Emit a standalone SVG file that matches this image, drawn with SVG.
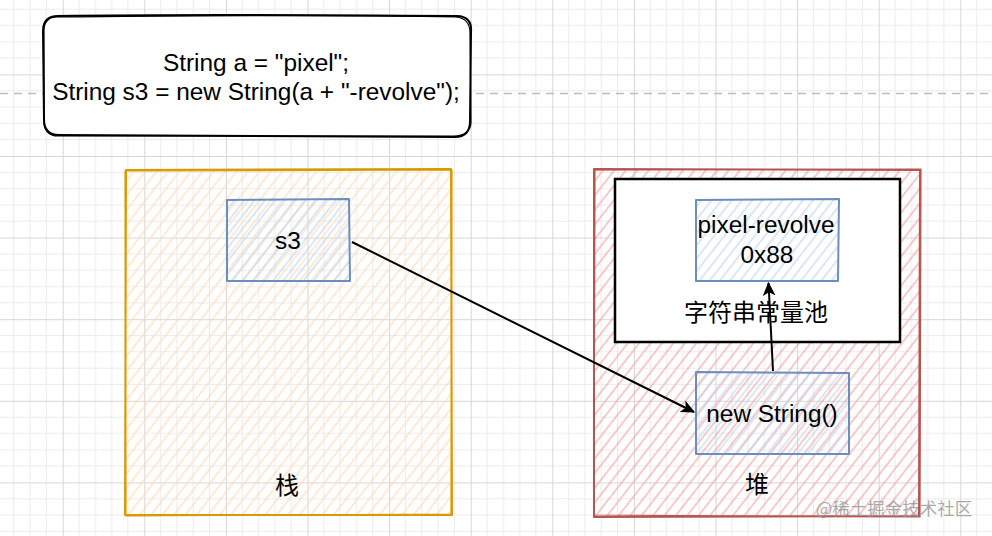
<svg xmlns="http://www.w3.org/2000/svg" width="992" height="536" viewBox="0 0 992 536">
<style>
.t{font-family:"Liberation Sans",Arial,sans-serif;font-size:24.4px;fill:#000;text-anchor:middle}
.c{font-family:"Liberation Sans","Noto Sans CJK SC",sans-serif;font-size:24px;fill:#000;text-anchor:middle}
.sk{fill:none;stroke-linejoin:round;stroke-linecap:round}
.edge{fill:none;stroke:#000;stroke-width:2}
</style>
<defs>
<pattern id="grid" patternUnits="userSpaceOnUse" x="62.7" y="74.4" width="81.6" height="81.6">
<path d="M16.32 0V81.6M32.64 0V81.6M48.96 0V81.6M65.28 0V81.6M0 16.32H81.6M0 32.64H81.6M0 48.96H81.6M0 65.28H81.6" stroke="#ebebeb" stroke-width="1"/>
<path d="M0.5 0V81.6M0 0.5H81.6" stroke="#d6d6d6" stroke-width="1"/>
</pattern>
<pattern id="hOrange" patternUnits="userSpaceOnUse" width="9" height="9" patternTransform="rotate(-52)">
<line x1="0" y1="4" x2="9" y2="4" stroke="#ffdcb8" stroke-width="1.2"/>
</pattern>
<pattern id="hRed" patternUnits="userSpaceOnUse" width="9" height="9" patternTransform="rotate(-52)">
<line x1="0" y1="4" x2="9" y2="4" stroke="#f0a9a6" stroke-width="1.2"/>
</pattern>
<pattern id="hBlue" patternUnits="userSpaceOnUse" width="8" height="8" patternTransform="rotate(-52)">
<line x1="0" y1="4" x2="8" y2="4" stroke="#c3d6f0" stroke-width="1.2"/>
</pattern>
<marker id="arrow" viewBox="0 0 12 12" refX="11" refY="6" markerWidth="14" markerHeight="14" markerUnits="userSpaceOnUse" orient="auto">
<path d="M0 0.5L12 6L0 11.5L3 6Z" fill="#000"/>
</marker>
</defs>
<rect width="992" height="536" fill="#fff"/>
<rect width="992" height="536" fill="url(#grid)"/>
<line x1="0" y1="93.5" x2="992" y2="93.5" stroke="#bdbdbd" stroke-width="1.5" stroke-dasharray="8 6"/>

<g id="code">
<path d="M58 16C180 14 330 15 457 16C467 16 472 22 471 32L470 121C470 132 465 137 455 137L59 135C48 135 44 129 44 119L43 31C43 21 48 16 58 16Z" fill="#fff"/>
<path class="sk" d="M58 16C180 14 330 15 457 16C467 16 472 22 471 32L470 121C470 132 465 137 455 137L59 135C48 135 44 129 44 119L43 31C43 21 48 16 58 16Z" stroke="#000" stroke-width="2"/>
<path class="sk" d="M57 17C190 16 320 14 456 17C466 18 470 24 470 33L471 122C471 131 464 136 454 136L58 136C49 136 43 130 44 120L44 30C44 22 49 17 57 17Z" stroke="#000" stroke-width="1.2"/>
<text class="t" x="256" y="71">String a = "pixel";</text>
<text class="t" x="256" y="100">String s3 = new String(a + "-revolve");</text>
</g>

<g id="stack">
<rect x="126" y="170" width="326" height="345" fill="url(#hOrange)"/>
<path class="sk" d="M126 170L451 169L452 515L125 515Z" stroke="#d79b00" stroke-width="2"/>
<path class="sk" d="M125 171L452 170L451 514L126 516Z" stroke="#d79b00" stroke-width="1.2"/>
<text class="c" x="287" y="494">栈</text>
</g>

<g id="s3">
<rect x="227" y="200" width="123" height="81" fill="url(#hBlue)"/>
<path class="sk" d="M227 200L349 199L350 281L227 281Z" stroke="#6c8ebf" stroke-width="2"/>
<text class="t" x="288" y="249">s3</text>
</g>

<g id="heap">
<rect x="594" y="169" width="326" height="347" fill="url(#hRed)"/>
<path class="sk" d="M594 169L920 170L919 516L594 517Z" stroke="#b85450" stroke-width="2"/>
<path class="sk" d="M595 170L921 169L920 517L594 515Z" stroke="#b85450" stroke-width="1.2"/>
<text class="c" x="757" y="493">堆</text>
</g>

<g id="pool">
<rect x="615" y="179" width="285" height="163" fill="#fff" stroke="#000" stroke-width="2.5"/>
<text class="c" x="756" y="321">字符串常量池</text>
</g>

<g id="literal">
<rect x="696" y="199" width="143" height="82" fill="url(#hBlue)"/>
<path class="sk" d="M696 200L839 199L838 281L696 281Z" stroke="#6c8ebf" stroke-width="2"/>
<text class="t" x="766" y="233">pixel-revolve</text>
<text class="t" x="767" y="263">0x88</text>
</g>

<g id="newString">
<rect x="696" y="372" width="153" height="82" fill="url(#hBlue)"/>
<path class="sk" d="M696 372L849 373L849 454L696 454Z" stroke="#6c8ebf" stroke-width="2"/>
<text class="t" x="772" y="422">new String()</text>
</g>

<g id="connectors">
<line class="edge" x1="352" y1="242" x2="694" y2="412" marker-end="url(#arrow)"/>
<line class="edge" x1="773" y1="371" x2="768.5" y2="283" marker-end="url(#arrow)"/>
</g>

<text x="894" y="515" font-family="'Noto Sans CJK SC',sans-serif" font-size="17.5" fill="#9a9a9a" fill-opacity="0.85" text-anchor="middle">@稀土掘金技术社区</text>
</svg>
